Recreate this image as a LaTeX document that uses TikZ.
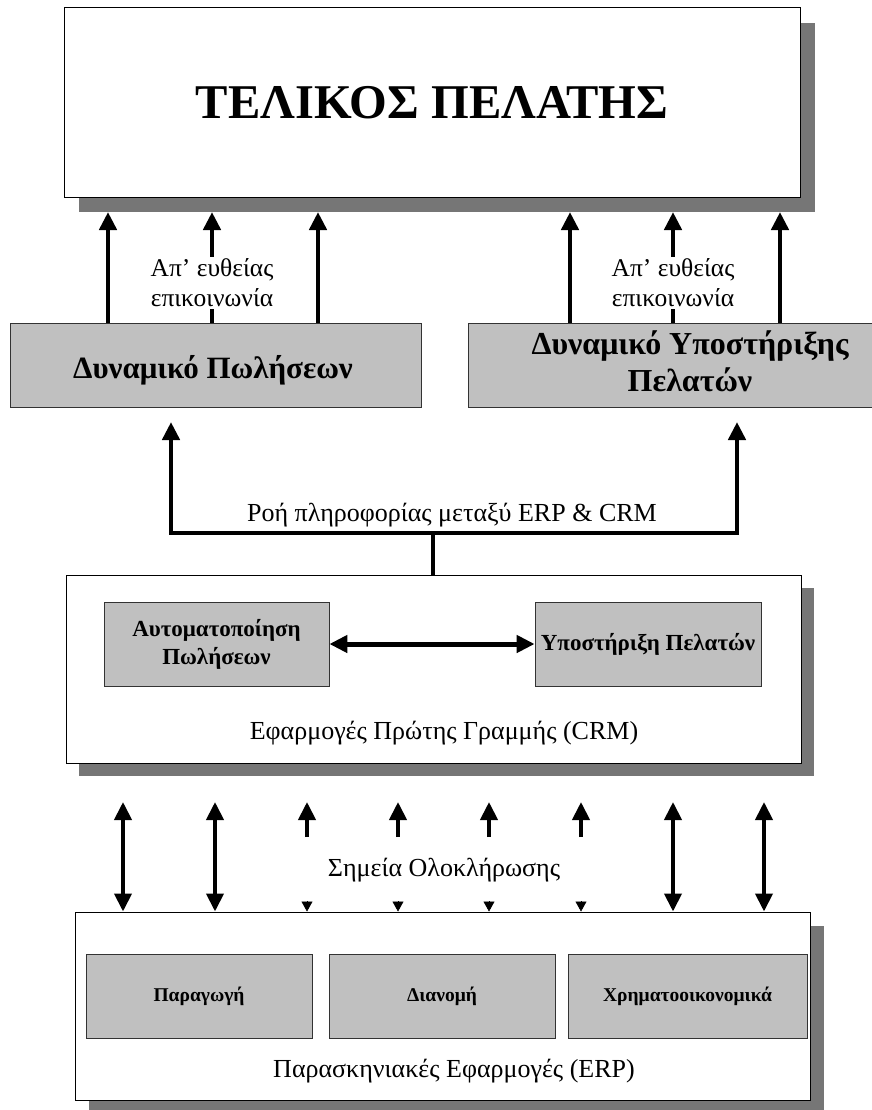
\documentclass[tikz,border=0pt]{standalone}
\usepackage{fontspec}
\setmainfont{Liberation Serif}
\usetikzlibrary{arrows.meta,shadows}
\definecolor{boxgray}{HTML}{C0C0C0}
\definecolor{shgray}{HTML}{767676}
\begin{document}
\begin{tikzpicture}[x=1pt,y=-1pt,
  shbox/.style={draw=black,line width=1pt,fill=white,inner sep=0pt,
    drop shadow={shadow xshift=#1,shadow yshift=-#1,fill=shgray,opacity=1}},
  shbox/.default=15pt,
  graybox/.style={draw=black!80,line width=0.8pt,fill=boxgray,inner sep=0pt,align=center},
  barrow/.style={line width=4.5pt,-{Triangle[length=18pt,width=17pt]}},
  darrow/.style={line width=4pt,{Triangle[length=18pt,width=17pt]}-{Triangle[length=18pt,width=17pt]}},
  stubarrow/.style={line width=0.5pt,-{Triangle[length=10pt,width=11pt]}},
  flowline/.style={line width=4.5pt},
  lbl/.style={inner sep=2pt,align=center,font=\fontsize{25.5}{30}\selectfont},
  biglbl/.style={inner sep=0pt,align=center,font=\fontsize{26}{30}\selectfont},
  boldlbl/.style={inner sep=0pt,align=center}
]
\useasboundingbox (0,0) rectangle (871,1110);

% top box
\node[shbox, minimum width=736pt, minimum height=189pt,
      font=\fontsize{48.5}{52}\selectfont\bfseries] (top) at (432,102.5) {ΤΕΛΙΚΟΣ ΠΕΛΑΤΗΣ};

% personnel boxes
\node[graybox, minimum width=411pt, minimum height=84pt] (dp) at (215.5,365) {};
\node[boldlbl, font=\fontsize{31}{36}\selectfont\bfseries] (dplbl) at (213,370) {Δυναμικό Πωλήσεων};
\node[graybox, minimum width=444pt, minimum height=84pt] (dy) at (690,365) {};
\node[boldlbl, font=\fontsize{32}{37}\selectfont\bfseries] (dylbl) at (690,361)
  {Δυναμικό Υποστήριξης\\Πελατών};

% CRM box
\node[shbox=13pt, minimum width=735pt, minimum height=188pt] (crm) at (433.5,669) {};
\node[graybox, minimum width=225pt, minimum height=84pt,
      font=\fontsize{23}{28}\selectfont\bfseries] (sa) at (216.5,644) {Αυτοματοποίηση\\Πωλήσεων};
\node[graybox, minimum width=226pt, minimum height=84pt,
      font=\fontsize{23}{28}\selectfont\bfseries] (sc) at (648,644) {Υποστήριξη Πελατών};
\node[biglbl] (crmlbl) at (444,733) {Εφαρμογές Πρώτης Γραμμής (CRM)};

% ERP box
\node[shbox=14pt, minimum width=735pt, minimum height=188pt] (erp) at (442.5,1006) {};
\node[graybox, minimum width=226pt, minimum height=84pt,
      font=\fontsize{19.5}{22}\selectfont\bfseries] (p1) at (199,996) {Παραγωγή};
\node[graybox, minimum width=226pt, minimum height=84pt,
      font=\fontsize{19.5}{22}\selectfont\bfseries] (p2) at (442,996) {Διανομή};
\node[graybox, minimum width=239pt, minimum height=84pt,
      font=\fontsize{19.5}{22}\selectfont\bfseries] (p3) at (687.5,996) {Χρηματοοικονομικά};
\node[biglbl] (erplbl) at (454,1071) {Παρασκηνιακές Εφαρμογές (ERP)};

% direct communication arrows
\coordinate (t1) at (108,212);
\coordinate (t2) at (212,212);
\coordinate (t3) at (318,212);
\coordinate (t4) at (570,212);
\coordinate (t5) at (673,212);
\coordinate (t6) at (780,212);
\node[lbl] (d1) at (212,283) {Απ’ ευθείας\\επικοινωνία};
\node[lbl] (d2) at (673,283) {Απ’ ευθείας\\επικοινωνία};
\draw[barrow] (dp.north -| t1) -- (t1);
\draw[barrow] (d1.north) -- (t2);
\draw[flowline] (dp.north -| t2) -- (d1.south);
\draw[barrow] (dp.north -| t3) -- (t3);
\draw[barrow] (dy.north -| t4) -- (t4);
\draw[barrow] (d2.north) -- (t5);
\draw[flowline] (dy.north -| t5) -- (d2.south);
\draw[barrow] (dy.north -| t6) -- (t6);

% information flow
\coordinate (j) at (433,533);
\coordinate (f1) at (171,422);
\coordinate (f2) at (737,422);
\draw[flowline] (crm.north -| j) -- (j);
\draw[barrow] (j) -| (f1);
\draw[barrow] (j) -| (f2);
\node[biglbl] (flowlbl) at (452,515) {Ροή πληροφορίας μεταξύ ERP \& CRM};

% integration points
\foreach \x/\n in {123/i1,215/i2,673/i7,764/i8}{
  \coordinate (\n) at (\x,802);
  \draw[darrow] (erp.north -| \n) -- (\n);
}
\foreach \x/\n in {307/i3,398/i4,489/i5,581/i6}{
  \coordinate (\n) at (\x,802);
  \coordinate (\n b) at (\x,837);
  \coordinate (\n s) at (\x,901);
  \draw[barrow, line width=4pt] (\n b) -- (\n);
  \draw[stubarrow] (\n s) -- (erp.north -| \n);
}
\node[biglbl] (intlbl) at (444,870) {Σημεία Ολοκλήρωσης};

% CRM internal
\draw[darrow, line width=5pt] (sa.east) -- (sc.west);
\end{tikzpicture}
\end{document}
